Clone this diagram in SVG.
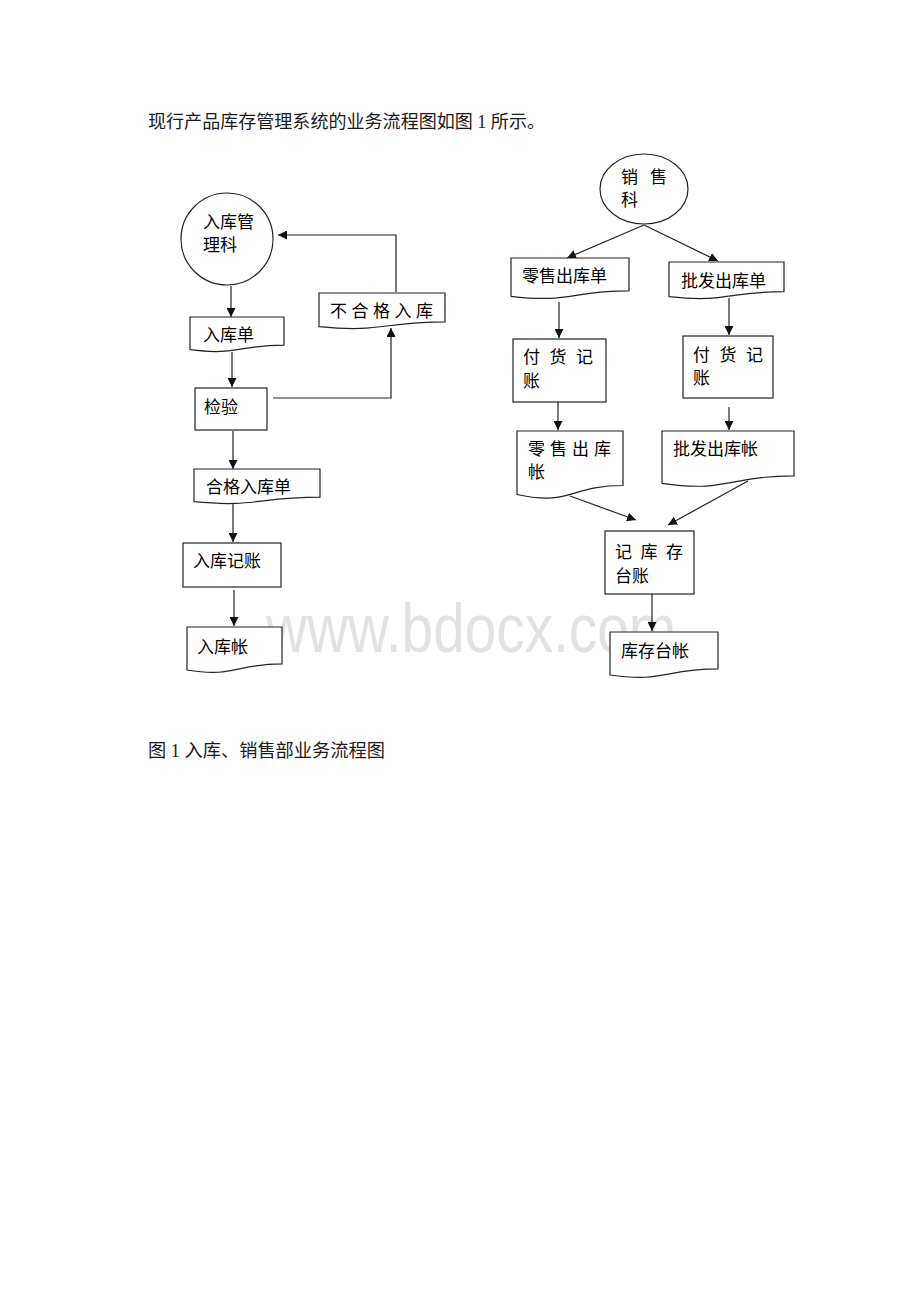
<svg xmlns="http://www.w3.org/2000/svg" width="920" height="1302" viewBox="0 0 920 1302">
<style>
.para{font-family:"Liberation Serif","Noto Sans CJK SC",serif;font-size:18px;fill:#1a1a1a}
.lbl{font-family:"Liberation Sans","Noto Sans CJK SC",sans-serif;font-size:17px;fill:#000}
.shape{fill:#fff;stroke:#222;stroke-width:1.2}
.conn{fill:none;stroke:#222;stroke-width:1.2}
.wm{font-family:"Liberation Sans",Arial,sans-serif;font-size:68px;fill:#e2e2e2}
</style>
<defs>
<marker id="arr" markerUnits="userSpaceOnUse" markerWidth="9" markerHeight="9" refX="9" refY="4.5" orient="auto">
<path d="M0,0 L9,4.5 L0,9 Z" fill="#111"/>
</marker>
</defs>
<rect width="920" height="1302" fill="#fff"/>
<text class="para" x="148" y="128" textLength="397" lengthAdjust="spacingAndGlyphs">现行产品库存管理系统的业务流程图如图 1 所示。</text>
<text class="wm" x="266" y="652" textLength="410" lengthAdjust="spacingAndGlyphs">www.bdocx.com</text>

<g id="connectors">
<path class="conn" d="M231,286 V317" marker-end="url(#arr)"/>
<path class="conn" d="M232,352 V387" marker-end="url(#arr)"/>
<path class="conn" d="M273,398 H391 V328" marker-end="url(#arr)"/>
<path class="conn" d="M396,292 V235 H278" marker-end="url(#arr)"/>
<path class="conn" d="M233,431 V469" marker-end="url(#arr)"/>
<path class="conn" d="M233,503 V542" marker-end="url(#arr)"/>
<path class="conn" d="M234,590 V626" marker-end="url(#arr)"/>
<path class="conn" d="M644,225 L567,258" marker-end="url(#arr)"/>
<path class="conn" d="M644,225 L718,261" marker-end="url(#arr)"/>
<path class="conn" d="M559,302 V338" marker-end="url(#arr)"/>
<path class="conn" d="M729,298 V335" marker-end="url(#arr)"/>
<path class="conn" d="M558,402 V430" marker-end="url(#arr)"/>
<path class="conn" d="M729,407 V430" marker-end="url(#arr)"/>
<path class="conn" d="M570,496 L636,520" marker-end="url(#arr)"/>
<path class="conn" d="M748,481 L668,525" marker-end="url(#arr)"/>
<path class="conn" d="M652,594 V631" marker-end="url(#arr)"/>
</g>

<g id="n-rukuguanlike">
<circle class="shape" cx="227" cy="239" r="46"/>
<text class="lbl" x="203" y="228">入库管</text>
<text class="lbl" x="203" y="251">理科</text>
</g>
<g id="n-rukudan">
<path class="shape" d="M190,317 H284 V345.1 C237,345.1 237,355.7 190,349.7 Z"/>
<text class="lbl" x="203" y="341">入库单</text>
</g>
<g id="n-jianyan">
<rect class="shape" x="195" y="388" width="72" height="42"/>
<text class="lbl" x="204" y="413">检验</text>
</g>
<g id="n-buhege">
<path class="shape" d="M319,293 H445 V321.9 C382,321.9 382,332.9 319,326.6 Z"/>
<text class="lbl" x="330" y="317" textLength="103" lengthAdjust="spacing">不 合 格 入 库</text>
</g>
<g id="n-hegerukudan">
<path class="shape" d="M194,469 H320 V497.1 C257,497.1 257,507.7 194,501.7 Z"/>
<text class="lbl" x="206" y="493">合格入库单</text>
</g>
<g id="n-rukujizhang">
<rect class="shape" x="183" y="543" width="98" height="44"/>
<text class="lbl" x="193" y="567">入库记账</text>
</g>
<g id="n-rukuzhang">
<path class="shape" d="M187,627 H282 V663.9 C234.5,663.9 234.5,677.9 187,670 Z"/>
<text class="lbl" x="197" y="653">入库帐</text>
</g>

<g id="n-xiaoshouke">
<ellipse class="shape" cx="644" cy="189" rx="44" ry="35"/>
<text class="lbl" x="621" y="183" textLength="46" lengthAdjust="spacing">销 售</text>
<text class="lbl" x="621" y="206">科</text>
</g>
<g id="n-lingshouchukudan">
<path class="shape" d="M511,258 H629 V290.9 C570,290.9 570,303.4 511,296.3 Z"/>
<text class="lbl" x="522" y="282">零售出库单</text>
</g>
<g id="n-pifachukudan">
<path class="shape" d="M669,262 H784 V291.7 C726.5,291.7 726.5,303 669,296.6 Z"/>
<text class="lbl" x="681" y="287">批发出库单</text>
</g>
<g id="n-fuhuojizhang-l">
<rect class="shape" x="513" y="339" width="93" height="63"/>
<text class="lbl" x="523" y="363" textLength="70" lengthAdjust="spacing">付 货 记</text>
<text class="lbl" x="523" y="387">账</text>
</g>
<g id="n-fuhuojizhang-r">
<rect class="shape" x="683" y="336" width="90" height="62"/>
<text class="lbl" x="693" y="361" textLength="70" lengthAdjust="spacing">付 货 记</text>
<text class="lbl" x="693" y="384">账</text>
</g>
<g id="n-lingshouchukuzhang">
<path class="shape" d="M517,431 H623 V485.5 C570,485.5 570,506.3 517,494.5 Z"/>
<text class="lbl" x="528" y="455" textLength="83" lengthAdjust="spacing">零 售 出 库</text>
<text class="lbl" x="528" y="478">帐</text>
</g>
<g id="n-pifachukuzhang">
<path class="shape" d="M662,431 H794 V475.9 C728,475.9 728,493 662,483.3 Z"/>
<text class="lbl" x="673" y="455">批发出库帐</text>
</g>
<g id="n-jikucuntaizhang">
<rect class="shape" x="605" y="531" width="89" height="63"/>
<text class="lbl" x="615" y="558" textLength="68" lengthAdjust="spacing">记 库 存</text>
<text class="lbl" x="615" y="582">台账</text>
</g>
<g id="n-kucuntaizhang">
<path class="shape" d="M610,632 H718 V668.9 C664,668.9 664,682.9 610,675 Z"/>
<text class="lbl" x="621" y="657">库存台帐</text>
</g>

<text class="para" x="148" y="757" textLength="237" lengthAdjust="spacingAndGlyphs">图 1 入库、销售部业务流程图</text>
</svg>
